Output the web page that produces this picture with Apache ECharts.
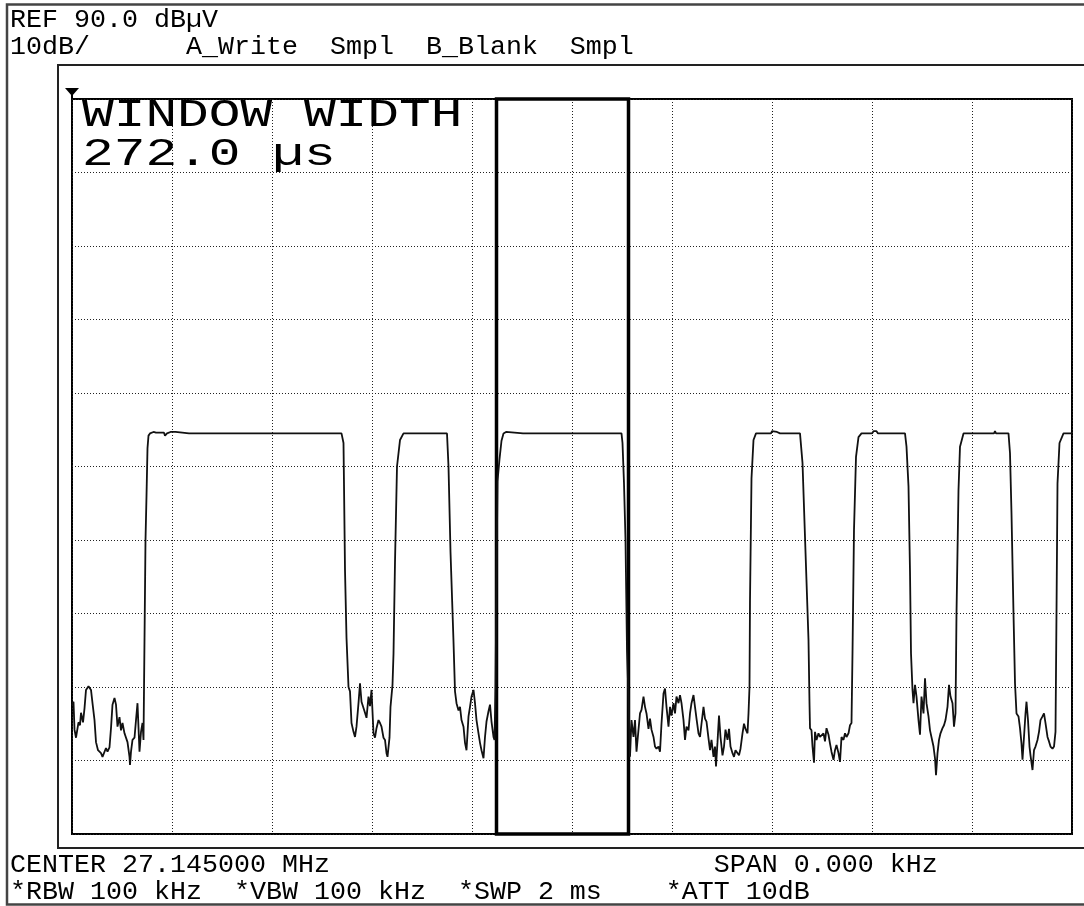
<!DOCTYPE html>
<html>
<head>
<meta charset="utf-8">
<script src="https://cdn.jsdelivr.net/npm/echarts@6/dist/echarts.min.js"></script>
<style>
html,body{margin:0;padding:0;background:#fff;}
#chart{width:1084px;height:906px;}
</style>
</head>
<body>
<div id="chart"></div>
<script>
// ---- axis scales ----
var sweepStart = 0, sweepEnd = 2000, sweepDiv = 200;      // µs, 2 ms sweep, 10 div
var refLevel = 90, bottomLevel = -10, levelDiv = 10;      // dBµV, 10 dB/div

// ---- gate window (µs) ----
var windowStart = 849, windowEnd = 1113;

// ---- trace: time (µs) ----
var traceTime = [
0,3,5,8,13,16,18,22,25,28,33,38,41,45,48,52,58,61,65,68,71,75,78,81,85,88,91,95,98,101,105,108,111,115,116,118,121,125,128,131,135,138,141,143,
145,147,149,151,153,156,
163,168,184,186,190,197,207,210,234,236,239,300,302,306,319,322,325,360,362,365,447,449,452,539,
543,544,546,549,553,
556,559,563,566,569,573,576,579,583,586,589,593,596,599,603,606,609,613,616,619,623,626,629,631,635,637,641,
643,646,650,656,663,
689,691,694,714,716,719,750,
753,757,763,766,
769,773,776,779,783,786,789,793,796,799,803,806,809,813,816,819,823,826,829,833,836,839,843,845,
847,849,851,855,859,863,
868,872,902,904,907,918,920,923,1099,
1101,1104,1107,1110,1113,1116,1119,1123,
1126,1129,1133,1136,1139,1143,1146,1149,1153,1156,1159,1163,1166,1169,1173,1176,1179,1183,1186,1189,1193,1196,1199,1203,1206,1209,1213,1216,1219,1223,1226,1229,1233,1236,1239,1243,1246,1249,1253,1256,1259,1263,1266,1269,1273,1276,1279,1283,1286,1288,1291,1294,1297,1301,1304,1307,1311,1314,1317,1321,1324,1327,1331,1334,1337,1341,1344,1347,1351,1353,1355,
1356,1359,1363,1368,
1398,1400,1410,1413,1416,1456,
1461,1466,1473,1475,
1476,1479,1481,1484,1486,1489,1493,1496,1499,1503,1506,1509,1513,1516,1519,1523,1526,1529,1533,1536,1539,1543,1546,1549,1553,1556,1559,
1561,1564,1568,1573,1579,
1600,1603,1606,1609,1612,1666,
1669,1673,1676,1678,1681,
1683,1686,1689,1693,1696,1699,1703,1706,1709,1713,1716,1719,1723,1726,1728,1731,1734,1737,1741,1744,1747,1751,1754,1757,1761,1764,1767,
1769,1773,1776,1783,
1844,1846,1848,1873,
1876,1879,1883,1886,
1889,1893,1896,1899,1901,1904,1907,1909,1912,1915,1917,1921,1924,1927,1931,1934,1937,1941,1944,1947,1951,1954,1957,1961,1964,1967,
1969,1971,1975,1983,2000
];

// ---- trace: level (dBµV) ----
var traceLevel = [
7.5,8.0,4.2,3.1,5.2,4.8,6.5,5.2,7.1,9.6,10.1,9.6,7.8,5.5,2.5,1.4,1.0,0.5,0.3,1.7,1.2,1.8,4.4,7.6,8.5,7.6,4.6,5.9,4.1,5.1,3.7,3.9,2.5,0.5,-0.6,1.2,2.8,3.1,5.5,7.8,1.2,3.9,5.1,2.8,
16.4,30.0,36.0,42.5,44.2,44.5,
44.7,44.6,44.6,44.2,44.5,44.7,44.7,44.5,44.5,44.7,44.5,44.5,44.7,44.5,44.5,44.7,44.5,44.5,44.7,44.5,44.5,44.7,44.5,44.5,
43.2,37.5,25.9,16.7,10.0,
9.4,5.1,3.9,3.2,4.6,7.8,10.5,8.0,7.8,6.5,5.8,8.7,7.4,9.6,3.7,3.1,4.4,5.5,5.1,4.6,3.1,2.8,1.0,0.5,3.1,7.3,10.3,
14.5,27.0,40.0,43.6,44.5,
44.5,44.7,44.5,44.5,44.7,44.5,44.5,
40.0,28.4,16.2,9.4,
7.8,6.8,7.3,5.5,4.6,2.4,1.4,6.0,7.3,8.7,9.6,7.8,5.5,3.7,2.4,1.4,0.3,3.2,5.3,6.7,7.6,5.3,3.2,2.8,
10.0,25.0,38.0,41.0,43.5,44.5,
44.7,44.5,44.5,44.7,44.5,44.5,44.7,44.5,44.5,
43.2,37.7,30.0,15.0,8.5,0.5,5.5,3.2,
5.5,1.2,4.2,6.4,6.9,8.7,7.3,6.4,4.3,5.7,4.2,3.2,1.9,1.6,1.9,1.2,5.0,9.1,9.8,7.3,4.6,7.3,6.1,7.8,6.4,8.7,7.8,8.9,7.8,5.5,2.8,4.6,4.1,6.4,7.8,8.9,7.3,5.7,3.7,3.2,5.0,7.3,5.7,5.3,3.0,1.4,2.8,0.5,1.9,-0.8,2.5,6.1,3.2,0.7,1.9,4.2,2.8,4.3,1.9,1.0,0.5,1.4,1.6,0.7,1.6,3.7,5.0,4.3,3.7,6.4,10.0,
21.8,38.4,43.6,44.5,
44.5,44.8,44.7,44.8,44.5,44.5,
40.5,30.4,16.4,7.8,
4.4,4.1,1.9,-0.3,3.9,2.8,3.7,3.2,3.0,3.7,2.6,4.4,3.5,2.3,1.2,0.1,1.4,2.1,1.0,-0.2,3.2,2.8,3.7,3.2,3.7,4.8,5.1,
14.6,31.4,41.3,44.0,44.5,
44.5,44.8,44.6,44.8,44.5,44.5,
42.7,37.3,25.7,14.6,9.6,
7.8,10.3,8.7,5.5,3.5,8.7,6.4,11.2,7.8,6.0,4.1,3.9,1.9,0.3,-2.0,1.0,2.8,3.7,4.4,4.8,5.5,7.3,10.3,8.7,7.8,4.6,6.4,
20.0,36.8,42.7,44.5,
44.5,44.8,44.5,44.5,
41.8,33.6,20.0,10.5,
6.4,6.0,4.4,2.3,0.1,3.2,6.4,8.0,5.5,1.9,0.7,-1.3,1.4,1.9,2.8,3.9,5.5,6.0,6.4,5.1,3.2,2.6,1.9,1.6,1.9,3.9,
20.1,37.7,43.2,44.5,44.5
];

// ---- screen annotations ----
var headerLine1 = 'REF 90.0 dB\u00b5V';
var headerLine2 = '10dB/      A_Write  Smpl  B_Blank  Smpl';
var dateLine = 'Tue 2011 Jun 28 15:31:22';
var footerLine1 = 'CENTER 27.145000 MHz                        SPAN 0.000 kHz';
var footerLine2 = '*RBW 100 kHz  *VBW 100 kHz  *SWP 2 ms    *ATT 10dB';
var windowLabel1 = 'WINDOW WIDTH';
var windowLabel2 = '272.0 \u00b5s';

var traceData = traceTime.map(function (t, i) { return [t, traceLevel[i]]; });

var MONO = '"Liberation Mono", "DejaVu Sans Mono", monospace';
function txt(str, x, y, size, sx, fill) {
  return {
    type: 'text', x: x, y: y, scaleX: sx || 1, z: 10,
    style: { text: str, font: size + 'px ' + MONO, fill: fill || '#000', verticalAlign: 'middle', align: 'left' }
  };
}

var chart = echarts.init(document.getElementById('chart'), null, { renderer: 'canvas' });
chart.setOption({
  backgroundColor: '#fff',
  animation: false,
  grid: { left: 72, top: 99, width: 1000, height: 735, show: true, borderColor: '#000', borderWidth: 2, backgroundColor: 'transparent' },
  xAxis: {
    type: 'value', min: sweepStart, max: sweepEnd, interval: sweepDiv,
    axisLabel: { show: false }, axisTick: { show: false }, axisLine: { show: false },
    splitLine: { show: true, lineStyle: { color: '#222', width: 1, type: [1, 2] } }
  },
  yAxis: {
    type: 'value', min: bottomLevel, max: refLevel, interval: levelDiv,
    axisLabel: { show: false }, axisTick: { show: false }, axisLine: { show: false },
    splitLine: { show: true, lineStyle: { color: '#222', width: 1, type: [1, 2] } }
  },
  series: [{
    type: 'line', data: traceData, showSymbol: false, symbol: 'none',
    lineStyle: { color: '#111', width: 1.8 }, clip: true, z: 3,
    markArea: {
      silent: true,
      itemStyle: { color: 'rgba(0,0,0,0)', borderColor: '#000', borderWidth: 3.5 },
      data: [[{ xAxis: windowStart, yAxis: refLevel }, { xAxis: windowEnd, yAxis: bottomLevel }]]
    }
  }],
  graphic: [
    // screen border
    { type: 'rect', shape: { x: 7, y: 4.5, width: 1200, height: 900 }, style: { fill: 'none', stroke: '#444', lineWidth: 2.5 }, z: 11 },
    // display frame
    { type: 'rect', shape: { x: 58, y: 65, width: 1200, height: 783 }, style: { fill: 'none', stroke: '#222', lineWidth: 2 }, z: 1 },
    // reference marker
    { type: 'polygon', shape: { points: [[65, 88], [79, 88], [72, 96]] }, style: { fill: '#000' }, z: 5 },
    { type: 'line', shape: { x1: 72, y1: 94, x2: 72, y2: 99 }, style: { stroke: '#000', lineWidth: 2 }, z: 5 },
    txt(dateLine, 746, -7, 26.67, 1, '#bbb'),
    txt(headerLine1, 10, 20, 26.67),
    txt(headerLine2, 10, 47, 26.67),
    txt(windowLabel1, 82, 116, 38, 1.39),
    txt(windowLabel2, 82, 155, 38, 1.39),
    txt(footerLine1, 10, 865, 26.67),
    txt(footerLine2, 10, 892, 26.67)
  ]
});
</script>
</body>
</html>
